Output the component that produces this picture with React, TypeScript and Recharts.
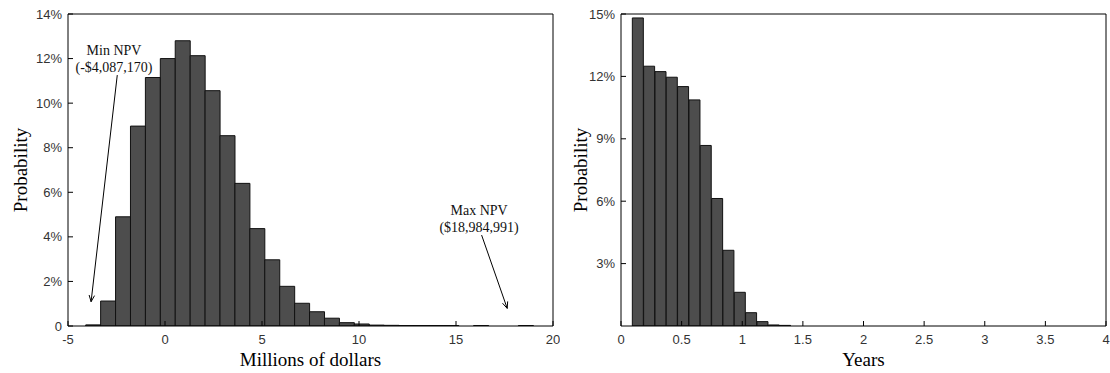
import { BarChart, Bar, XAxis, YAxis, Label, ReferenceLine, ReferenceDot } from "recharts";

// NPV histogram (millions of dollars), bin centres and probability in %
const npvBins = [
  -3.702, -2.933, -2.164, -1.395, -0.626, 0.143, 0.912, 1.681, 2.45, 3.219,
  3.988, 4.757, 5.527, 6.296, 7.065, 7.834, 8.603, 9.372, 10.141, 10.91,
  11.679, 12.448, 13.217, 13.986, 14.755, 15.524, 16.293, 17.063, 17.832, 18.601,
];
const npvProb = [
  0.05, 1.12, 4.9, 8.97, 11.15, 12.0, 12.8, 12.13, 10.56, 8.54,
  6.4, 4.37, 2.97, 1.78, 1.02, 0.64, 0.35, 0.15, 0.09, 0.04,
  0.03, 0.02, 0.02, 0.02, 0.02, 0, 0.02, 0, 0, 0.02,
];
const npvTicksX = [-5, 0, 5, 10, 15, 20];
const npvTicksY = [0, 2, 4, 6, 8, 10, 12, 14];

// payback histogram (years)
const yearBins = [
  0.14, 0.233, 0.327, 0.42, 0.513, 0.607, 0.7, 0.794, 0.887, 0.981, 1.074, 1.168, 1.261, 1.354,
];
const yearProb = [
  14.81, 12.49, 12.23, 11.96, 11.51, 10.87, 8.68, 6.13, 3.64, 1.62, 0.64, 0.21, 0.05, 0.03,
];
const yearTicksX = [0, 0.5, 1, 1.5, 2, 2.5, 3, 3.5, 4];
const yearTicksY = [3, 6, 9, 12, 15];

const npvData = npvBins.map((x, i) => ({ x, p: npvProb[i] }));
const yearData = yearBins.map((x, i) => ({ x, p: yearProb[i] }));

const SANS = "'Liberation Sans', Arial, sans-serif";
const SERIF = "'Liberation Serif', 'Times New Roman', serif";
const tickStyle = { fontFamily: SANS, fontSize: 13, fill: "#333" };
const axisStroke = "#000";

const pct = (v: number) => (v === 0 ? "0" : `${v}%`);

function YLabel(props: any) {
  const vb = props.viewBox;
  const cx = vb.x + 20;
  const cy = vb.y + vb.height / 2;
  return (
    <text
      x={cx}
      y={cy}
      transform={`rotate(-90, ${cx}, ${cy})`}
      textAnchor="middle"
      dominantBaseline="central"
      fontFamily={SERIF}
      fontSize={19}
      fill="#000"
    >
      Probability
    </text>
  );
}

function Arrow(props: any) {
  const { x1, y1, x2, y2 } = props;
  const ang = Math.atan2(y2 - y1, x2 - x1);
  const L = 7;
  const a = 0.4;
  const hx1 = x2 - L * Math.cos(ang - a);
  const hy1 = y2 - L * Math.sin(ang - a);
  const hx2 = x2 - L * Math.cos(ang + a);
  const hy2 = y2 - L * Math.sin(ang + a);
  return (
    <path
      d={`M${x1},${y1}L${x2},${y2}M${hx1},${hy1}L${x2},${y2}L${hx2},${hy2}`}
      stroke="#000"
      strokeWidth={1}
      fill="none"
    />
  );
}

function note(lines: string[]) {
  return (props: any) => (
    <text x={props.cx} y={props.cy} textAnchor="middle" fontFamily={SERIF} fontSize={14} fill="#111">
      {lines.map((l, i) => (
        <tspan key={i} x={props.cx} dy={i === 0 ? 0 : 17}>
          {l}
        </tspan>
      ))}
    </text>
  );
}

export default function App() {
  return (
    <div style={{ position: "absolute", left: 0, top: 0, width: 1110, height: 373, background: "#fff" }}>
      <div style={{ position: "absolute", left: 0, top: 0 }}>
        <BarChart
          width={560}
          height={373}
          data={npvData}
          margin={{ top: 13, right: 6, bottom: 0, left: 0 }}
          barCategoryGap={0}
          barGap={0}
        >
          <XAxis
            xAxisId="bottom"
            dataKey="x"
            type="number"
            domain={[-5, 20]}
            ticks={npvTicksX}
            allowDataOverflow
            height={47}
            stroke={axisStroke}
            tickSize={-5}
            tickMargin={14}
            tick={tickStyle}
          >
            <Label
              value="Millions of dollars"
              position="insideBottom"
              offset={7}
              style={{ fontFamily: SERIF, fontSize: 19, fill: "#000" }}
            />
          </XAxis>
          <XAxis
            xAxisId="top"
            orientation="top"
            dataKey="x"
            type="number"
            domain={[-5, 20]}
            ticks={npvTicksX}
            allowDataOverflow
            height={1}
            stroke={axisStroke}
            tickSize={-5}
            tick={false}
          />
          <YAxis
            yAxisId="left"
            type="number"
            domain={[0, 14]}
            ticks={npvTicksY}
            allowDataOverflow
            width={68}
            stroke={axisStroke}
            tickSize={-5}
            tickMargin={11}
            tick={tickStyle}
            tickFormatter={pct}
          >
            <Label content={YLabel} />
          </YAxis>
          <YAxis
            yAxisId="right"
            orientation="right"
            type="number"
            domain={[0, 14]}
            ticks={npvTicksY}
            allowDataOverflow
            width={1}
            stroke={axisStroke}
            tickSize={-5}
            tick={false}
          />
          <Bar
            xAxisId="bottom"
            yAxisId="left"
            dataKey="p"
            fill="#4d4d4d"
            stroke="#111"
            strokeWidth={1}
            isAnimationActive={false}
          />
          <ReferenceLine
            xAxisId="bottom"
            yAxisId="left"
            segment={[
              { x: -2.46, y: 11.26 },
              { x: -3.81, y: 1.09 },
            ]}
            ifOverflow="visible"
            shape={Arrow}
          />
          <ReferenceLine
            xAxisId="bottom"
            yAxisId="left"
            segment={[
              { x: 16.32, y: 4.08 },
              { x: 17.64, y: 0.79 },
            ]}
            ifOverflow="visible"
            shape={Arrow}
          />
          <ReferenceDot
            xAxisId="bottom"
            yAxisId="left"
            x={-2.63}
            y={12.16}
            r={0}
            ifOverflow="visible"
            shape={note(["Min NPV", "(-$4,087,170)"])}
          />
          <ReferenceDot
            xAxisId="bottom"
            yAxisId="left"
            x={16.19}
            y={4.98}
            r={0}
            ifOverflow="visible"
            shape={note(["Max NPV", "($18,984,991)"])}
          />
        </BarChart>
      </div>
      <div style={{ position: "absolute", left: 560, top: 0 }}>
        <BarChart
          width={550}
          height={373}
          data={yearData}
          margin={{ top: 13, right: 3, bottom: 0, left: 0 }}
          barCategoryGap={0}
          barGap={0}
        >
          <XAxis
            xAxisId="bottom"
            dataKey="x"
            type="number"
            domain={[0, 4]}
            ticks={yearTicksX}
            allowDataOverflow
            height={47}
            stroke={axisStroke}
            tickSize={-5}
            tickMargin={14}
            tick={tickStyle}
          >
            <Label
              value="Years"
              position="insideBottom"
              offset={7}
              style={{ fontFamily: SERIF, fontSize: 19, fill: "#000" }}
            />
          </XAxis>
          <XAxis
            xAxisId="top"
            orientation="top"
            dataKey="x"
            type="number"
            domain={[0, 4]}
            ticks={yearTicksX}
            allowDataOverflow
            height={1}
            stroke={axisStroke}
            tickSize={-5}
            tick={false}
          />
          <YAxis
            yAxisId="left"
            type="number"
            domain={[0, 15]}
            ticks={yearTicksY}
            allowDataOverflow
            width={61}
            stroke={axisStroke}
            tickSize={-5}
            tickMargin={11}
            tick={tickStyle}
            tickFormatter={pct}
          >
            <Label content={YLabel} />
          </YAxis>
          <YAxis
            yAxisId="right"
            orientation="right"
            type="number"
            domain={[0, 15]}
            ticks={yearTicksY}
            allowDataOverflow
            width={1}
            stroke={axisStroke}
            tickSize={-5}
            tick={false}
          />
          <Bar
            xAxisId="bottom"
            yAxisId="left"
            dataKey="p"
            fill="#4d4d4d"
            stroke="#111"
            strokeWidth={1}
            isAnimationActive={false}
          />
        </BarChart>
      </div>
    </div>
  );
}
